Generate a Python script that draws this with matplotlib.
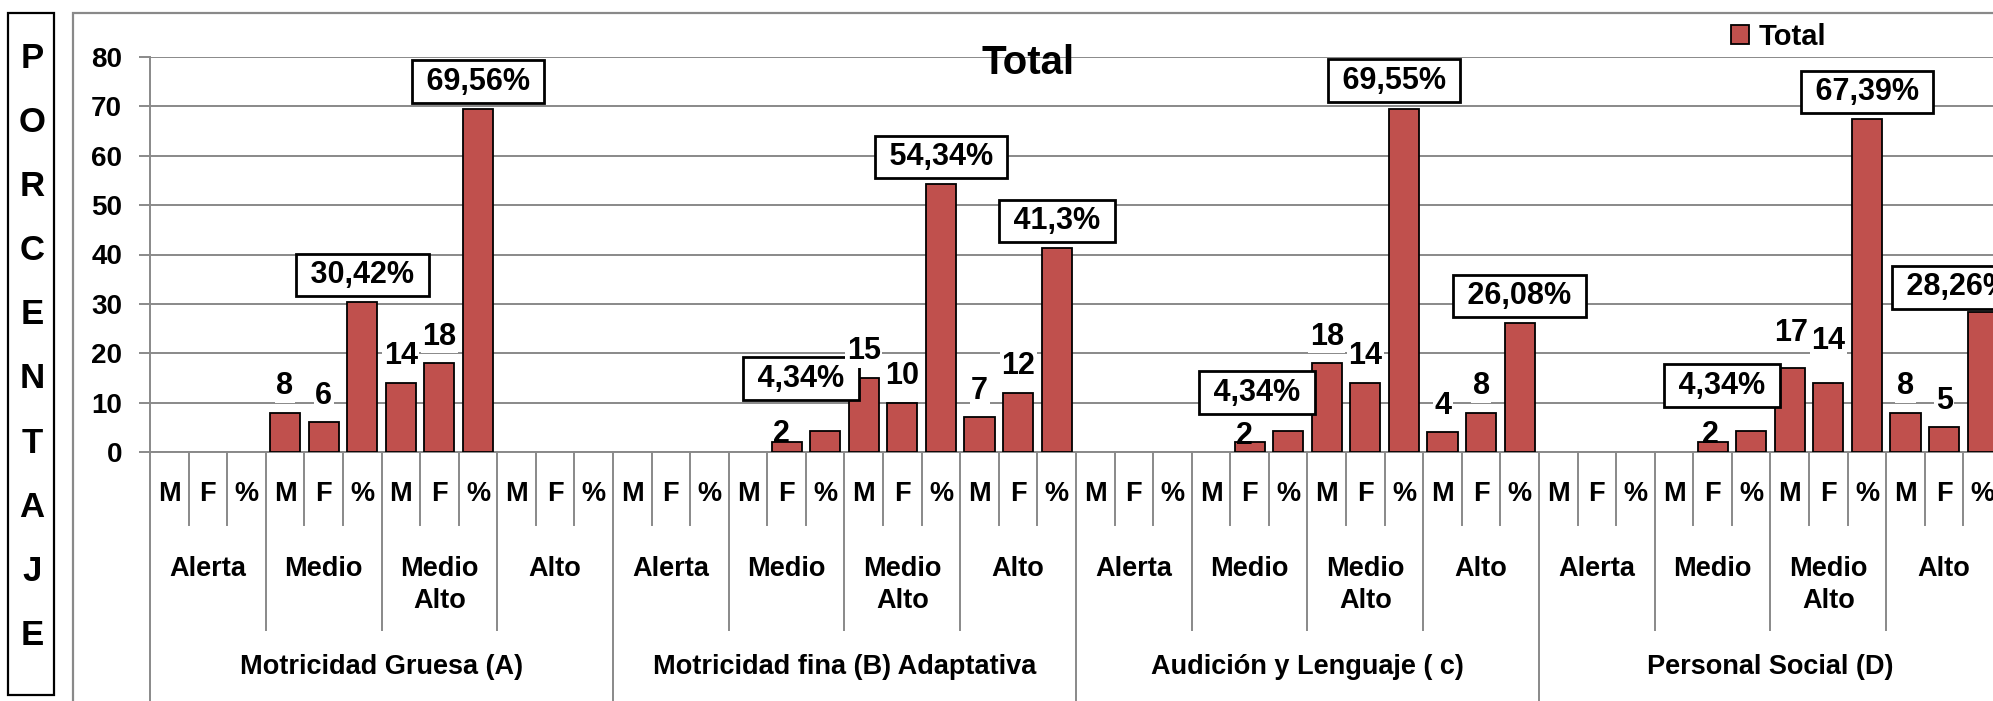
import matplotlib.pyplot as plt
import matplotlib.transforms as mtransforms
from matplotlib.patches import Rectangle
import numpy as np

# datos
dominios = ['Motricidad Gruesa (A)', 'Motricidad fina (B) Adaptativa',
            'Audición y Lenguaje ( c)', 'Personal Social (D)']
niveles = ['Alerta', 'Medio', 'Medio\nAlto', 'Alto']
subcat = ['M', 'F', '%']
gruesa = [None, None, None, 8, 6, 30.42, 14, 18, 69.56, None, None, None]
fina = [None, None, None, None, 2, 4.34, 15, 10, 54.34, 7, 12, 41.3]
audicion = [None, None, None, None, 2, 4.34, 18, 14, 69.55, 4, 8, 26.08]
social = [None, None, None, None, 2, 4.34, 17, 14, 67.39, 8, 5, 28.26]
serie = 'Total'

valores = gruesa + fina + audicion + social

# ajustes de posicion de etiquetas (pixeles desde el tope de la barra)
desplaz = {16: (-5, 8), 17: (-24, 52), 28: (-5, 6), 29: (-31, 38), 32: (-10, 28),
           40: (-2, 7), 41: (-29, 45), 42: (1, 35), 43: (0, 42), 47: (-24, 25)}

W, H = 1993, 701
def fx(x): return x / W
def fy(y): return 1 - y / H

ROJO = '#C0504D'
GRIS = '#898989'
BOLD = ['Liberation Sans', 'DejaVu Sans']
NARROW = ['Liberation Sans Narrow', 'Liberation Sans', 'DejaVu Sans']

fig = plt.figure(figsize=(W / 100, H / 100), dpi=100)
fig.patch.set_facecolor('white')

# borde del area del grafico
fig.patches.append(Rectangle((fx(73), fy(2000)), 2.0, fy(13) - fy(2000), transform=fig.transFigure,
                             fill=False, ec=GRIS, lw=1.6))
# caja PORCENTAJE
fig.patches.append(Rectangle((fx(8), fy(695)), fx(54) - fx(8), fy(13) - fy(695),
                             transform=fig.transFigure, fill=False, ec='black', lw=1.6))
for i, letra in enumerate('PORCENTAJE'):
    fig.text(fx(32), fy(58 + i * 64.2), letra, ha='center', va='center',
             fontsize=25, fontweight='bold', family=BOLD)

ax_top, ax_bot = 57, 452
ax = fig.add_axes([fx(150), fy(ax_bot), (2002 - 150) / W, (ax_bot - ax_top) / H])
n = len(valores)
xs = np.arange(n) + 0.5
idx = [i for i, v in enumerate(valores) if v is not None]
bars = ax.bar(xs[idx], [valores[i] for i in idx], width=0.78, color=ROJO,
              edgecolor='black', linewidth=1.3, zorder=3, label=serie)

ax.set_xlim(0, n)
ax.set_ylim(0, 80)
ax.set_yticks(range(0, 81, 10))
ax.yaxis.grid(True, color=GRIS, lw=1.4, zorder=0)
ax.set_xticks([])
for s in ['top', 'right']:
    ax.spines[s].set_visible(False)
for s in ['left', 'bottom']:
    ax.spines[s].set_color(GRIS)
    ax.spines[s].set_linewidth(1.4)
ax.tick_params(axis='y', length=8, width=1.4, color=GRIS, pad=12)
for t in ax.get_yticklabels():
    t.set_fontsize(20)
    t.set_fontweight('bold')
    t.set_family(BOLD)

# etiquetas de datos
for i in idx:
    v = valores[i]
    dx, dy = desplaz.get(i, (0, 27 if i % 3 == 2 else 26.5))
    if i % 3 == 2:
        txt = ' ' + ('%g' % v).replace('.', ',') + '% '
        box = dict(boxstyle='square,pad=0.2', fc='white', ec='black', lw=2)
    elif v > 2:
        txt = '%d' % v
        box = dict(boxstyle='square,pad=0.05', fc='white', ec='none')
    else:
        txt = '%d' % v
        box = None
    ax.annotate(txt, xy=(xs[i], v), xytext=(dx, dy), textcoords='offset pixels',
                ha='center', va='center', fontsize=22, fontweight='bold',
                family=NARROW, bbox=box, zorder=5, annotation_clip=False)

# eje de categorias de varios niveles
axh = ax_bot - ax_top
def af(y): return (ax_bot - y) / axh
tr = mtransforms.blended_transform_factory(ax.transData, ax.transAxes)
for k in range(n + 1):
    if k % 12 == 0:
        y1 = 760
    elif k % 3 == 0:
        y1 = 630
    else:
        y1 = 525
    ax.plot([k, k], [0, af(y1)], color=GRIS, lw=1.4, transform=tr, clip_on=False)
for i in range(n):
    ax.text(xs[i], af(494), subcat[i % 3], transform=tr, ha='center', va='center',
            fontsize=19.5, fontweight='bold', family=BOLD)
for j in range(n // 3):
    ax.text(j * 3 + 1.5, af(556), niveles[j % 4], transform=tr, ha='center', va='top',
            fontsize=19.5, fontweight='bold', family=BOLD, linespacing=1.28)
for d in range(4):
    ax.text(d * 12 + 6, af(667), dominios[d], transform=tr, ha='center', va='center',
            fontsize=19.5, fontweight='bold', family=BOLD)

fig.text(fx(1028), fy(63), 'Total', ha='center', va='center', fontsize=29,
         fontweight='bold', family=BOLD)

fig.legend(handles=[bars], labels=[serie], loc='center left',
           bbox_to_anchor=(fx(1731), fy(37)), frameon=False,
           prop=dict(weight='bold', family=BOLD, size=21),
           handlelength=0.6, handleheight=0.6, handletextpad=0.35,
           borderpad=0, borderaxespad=0)

fig.savefig('out.png', dpi=100)
